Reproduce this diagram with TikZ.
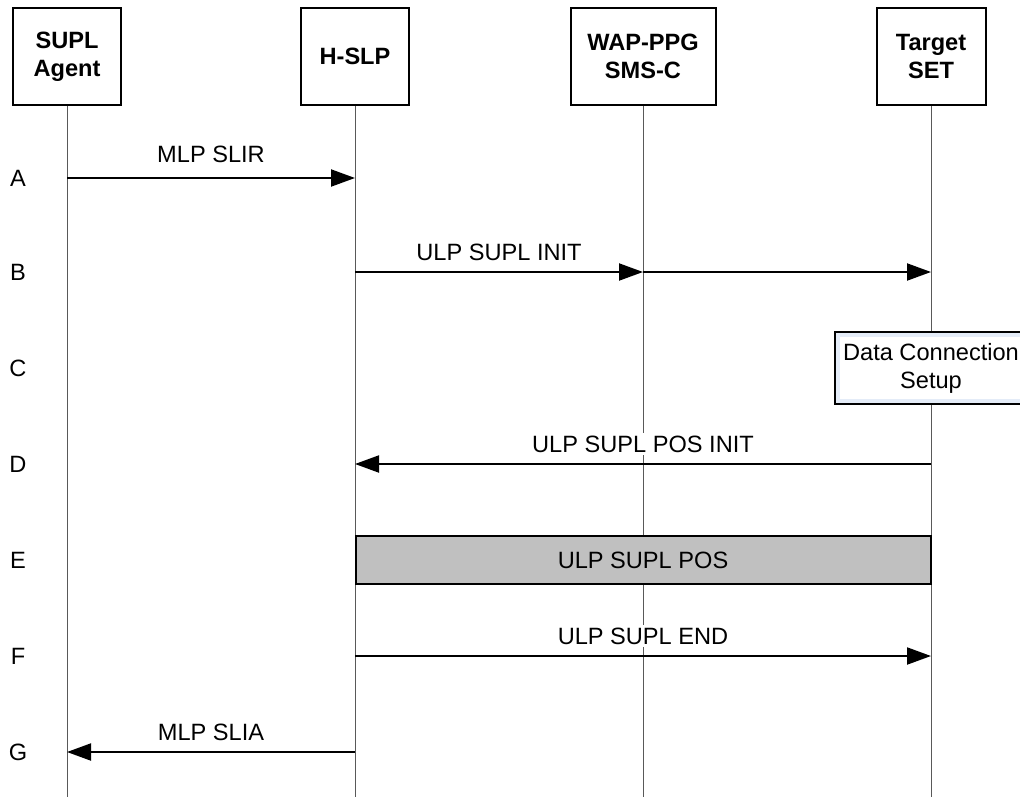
\documentclass[tikz,border=0pt]{standalone}
\usepackage{fontspec}
\setmainfont{Liberation Sans}
\usetikzlibrary{arrows.meta,positioning,calc}
\definecolor{posgray}{RGB}{192,192,192}
\definecolor{setupblue}{RGB}{228,236,248}
\tikzstyle{entity}=[
	rectangle,
	draw=black,
	line width=1pt,
	fill=white,
	minimum height=48.5pt,
	align=center,
	font=\fontsize{11.8pt}{14pt}\selectfont\bfseries,
	node distance=144pt,
	on grid
]
\tikzstyle{lifeline}=[
	line width=0.5pt,
	draw=black!65
]
\tikzstyle{message}=[
	-{Triangle[length=12pt,width=8.5pt]},
	line width=1pt
]
\tikzstyle{msglabel}=[
	fill=white,
	inner sep=1.5pt,
	yshift=10pt
]
\tikzstyle{rowlabel}=[
	inner sep=0pt
]
\tikzstyle{setupbox}=[
	rectangle,
	draw=black,
	line width=0.8pt,
	fill=setupblue,
	minimum width=96pt,
	minimum height=36pt,
	align=center,
	path picture={\fill[white] ([shift={(2.5pt,2.5pt)}]path picture bounding box.south west) rectangle ([shift={(-2.5pt,-2.5pt)}]path picture bounding box.north east);}
]
\tikzstyle{posbox}=[
	rectangle,
	draw=black,
	line width=1pt,
	fill=posgray,
	minimum width=287.5pt,
	minimum height=24pt
]

\begin{document}
\begin{tikzpicture}[font=\fontsize{11.8pt}{14pt}\selectfont]
\useasboundingbox (0,0) rectangle (510pt,-398.5pt);
\node [entity, minimum width=54pt] (Agent) at (33.5pt,-28.25pt) {SUPL\\Agent};
\node [entity, minimum width=54pt] (HSLP) [right=of Agent] {H-SLP};
\node [entity, minimum width=72.5pt] (WAPPPG) [right=of HSLP] {WAP-PPG\\SMS-C};
\node [entity, minimum width=54.5pt] (TargetSET) [right=of WAPPPG] {Target\\SET};
\coordinate (bottom) at (0,-398.5pt);
\foreach \e in {Agent,HSLP,WAPPPG,TargetSET}
	\draw [lifeline] (\e.south) -- (\e |- bottom);
\foreach \r/\y in {A/178,B/272,C/368,D/464,E/560,F/656,G/752}
	\node [rowlabel] (row\r) at (9pt,{-\y*0.5pt}) {\r};
\draw [message] (Agent |- rowA) -- node [msglabel, yshift=2pt] {MLP SLIR} (HSLP |- rowA);
\draw [message] (HSLP |- rowB) -- node [msglabel] {ULP SUPL INIT} (WAPPPG |- rowB);
\draw [message] (WAPPPG |- rowB) -- (TargetSET |- rowB);
\node [setupbox] (Setup) at (TargetSET |- rowC) {Data Connection\\Setup};
\draw [message] (TargetSET |- rowD) -- node [msglabel] {ULP SUPL POS INIT} (HSLP |- rowD);
\node [posbox] (Pos) at ($(HSLP |- rowE)!0.5!(TargetSET |- rowE)$) {ULP SUPL POS};
\draw [message] (HSLP |- rowF) -- node [msglabel] {ULP SUPL END} (TargetSET |- rowF);
\draw [message] (HSLP |- rowG) -- node [msglabel] {MLP SLIA} (Agent |- rowG);
\end{tikzpicture}
\end{document}
